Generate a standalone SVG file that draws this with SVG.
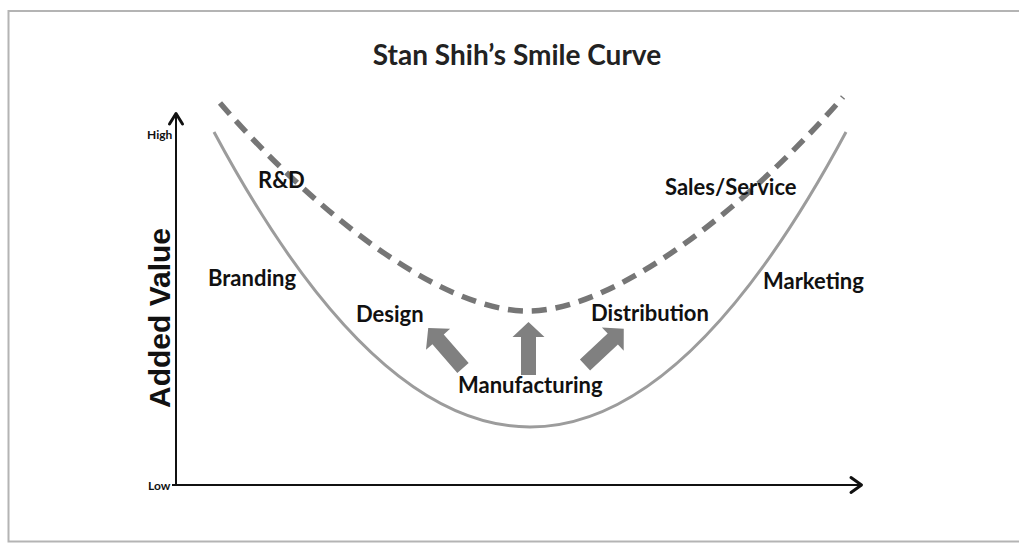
<svg xmlns="http://www.w3.org/2000/svg" width="1019" height="543" viewBox="0 0 1019 543">
  <style>
    .label { font-family: Lato, "Liberation Sans", sans-serif; font-weight: bold; font-size: 22px; fill: #111; }
    .tick { font-family: Lato, "Liberation Sans", sans-serif; font-weight: bold; font-size: 12px; fill: #111; }
    .title { font-family: Lato, "Liberation Sans", sans-serif; font-weight: bold; font-size: 28px; fill: #222; }
    .axis { fill: none; stroke: #111; stroke-width: 2; }
    .axis-head { fill: none; stroke: #111; stroke-width: 3; stroke-linecap: round; stroke-linejoin: round; }
    .curve-solid { fill: none; stroke: #9c9c9c; stroke-width: 3; }
    .curve-dashed { fill: none; stroke: #767676; stroke-width: 5.5; stroke-dasharray: 15 9; }
    .block-arrow { fill: #808080; }
  </style>
  <defs>
    <!-- block arrow pointing up, tail centre at origin -->
    <path id="blockArrow" d="M -7.5 0 L -7.5 -38 L -16 -38 L 0 -53 L 16 -38 L 7.5 -38 L 7.5 0 Z"/>
  </defs>

  <rect x="0" y="0" width="1019" height="543" fill="#fff"/>
  <!-- frame -->
  <rect x="8.5" y="11" width="1030" height="530.5" fill="none" stroke="#b4b4b4" stroke-width="2"/>

  <text class="title" x="517" y="65" text-anchor="middle">Stan Shih’s Smile Curve</text>

  <!-- axes -->
  <g id="axes">
    <line class="axis" x1="176" y1="485" x2="176" y2="114"/>
    <polyline class="axis-head" points="169.5,124 176,113.5 182.5,124"/>
    <line class="axis" x1="172" y1="485" x2="861" y2="485"/>
    <polyline class="axis-head" points="851,477.5 861.5,485 851,492.5"/>
    <text class="tick" x="147" y="139">High</text>
    <text class="tick" x="148" y="490">Low</text>
    <text x="170" y="318" transform="rotate(-90 170 318)" text-anchor="middle" font-family="'Liberation Sans', Arial, sans-serif" font-weight="bold" font-size="30" fill="#111">Added Value</text>
  </g>

  <g id="connectors">
    <!-- lower value curve -->
    <path class="curve-solid" d="M 214 132 Q 530 722 846 132"/>
    <!-- upper value curve -->
    <path class="curve-dashed" d="M 220 103 C 310 207 438 311 528 311 C 618 311 753 201 843 97"/>
    <!-- shift arrows -->
    <use href="#blockArrow" class="block-arrow" transform="translate(463 368) rotate(-41)"/>
    <use href="#blockArrow" class="block-arrow" transform="translate(528.5 375)"/>
    <use href="#blockArrow" class="block-arrow" transform="translate(585 365) rotate(47)"/>
  </g>

  <g id="node-rd"><text class="label" x="258" y="188">R&amp;D</text></g>
  <g id="node-sales"><text class="label" x="665" y="195">Sales/Service</text></g>
  <g id="node-branding"><text class="label" x="208" y="286">Branding</text></g>
  <g id="node-marketing"><text class="label" x="763" y="289">Marketing</text></g>
  <g id="node-design"><text class="label" x="356" y="322">Design</text></g>
  <g id="node-distribution"><text class="label" x="591" y="321">Distribution</text></g>
  <g id="node-manufacturing"><text class="label" x="458" y="393">Manufacturing</text></g>
</svg>
